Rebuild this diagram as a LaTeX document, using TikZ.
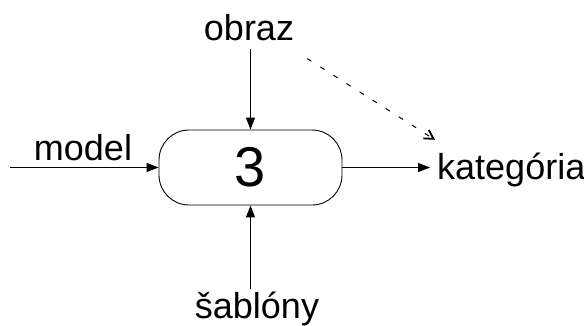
\documentclass[tikz,border=0pt]{standalone}
\usepackage{fontspec}
\setmainfont{Liberation Sans}
\usetikzlibrary{arrows.meta}
\begin{document}
\begin{tikzpicture}[x=1pt,y=-1pt,
  lbl/.style={font=\fontsize{36}{42}\selectfont, inner sep=0pt, anchor=base},
  flow/.style={line width=1pt, -{Triangle[length=12pt,width=9pt]}},
  proc/.style={draw, line width=0.9pt, rounded corners=30pt, minimum width=183pt, minimum height=75pt, inner sep=0pt, font=\fontsize{56}{60}\selectfont},
  hint/.style={line width=1pt, dash pattern=on 5pt off 10.5pt, -{Straight Barb[length=8.7pt,width=10pt,line width=1.8pt]}}]
\useasboundingbox (0,0) rectangle (584,325);
\node[proc] (box) at (250.5,167.5) {3};
\node[lbl] (obraz) at (249,40) {obraz};
\node[lbl] (model) at (83,160) {model};
\node[lbl, anchor=base west] (kat) at (437,179) {kategória};
\node[lbl] (sab) at (257,318) {šablóny};
\coordinate (in) at (10,167.5);
\draw[flow] (in) -- (box.west);
\draw[flow, shorten <=8pt] (box.north |- obraz.south) -- (box.north);
\draw[flow, shorten <=2pt] (box.south |- sab.north) -- (box.south);
\draw[flow, shorten >=7pt] (box.east) -- (box.east -| kat.west);
\draw[hint] ([xshift=13pt,yshift=-18pt]obraz.south east) -- ([xshift=-2pt,yshift=12.5pt]kat.north west);
\end{tikzpicture}
\end{document}
